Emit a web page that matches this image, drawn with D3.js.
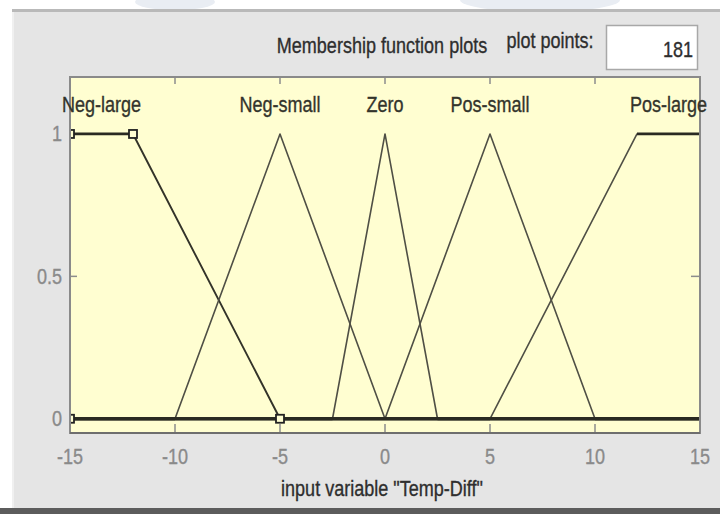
<!DOCTYPE html>
<html>
<head>
<meta charset="utf-8">
<script src="https://cdn.jsdelivr.net/npm/d3@7/dist/d3.min.js"></script>
<style>
  html, body { margin: 0; padding: 0; background: #ffffff; }
  svg { display: block; }
  text { font-family: "Liberation Sans", Arial, sans-serif; }
</style>
</head>
<body>
<svg id="chart" width="720" height="514"></svg>
<script>
// Membership functions of the input variable "Temp-Diff"
const mfNames = ["Neg-large", "Neg-small", "Zero", "Pos-small", "Pos-large"];
// Vertices [x, membership] of each function over the whole input range
const negLarge = [[-15, 1], [-12, 1], [-5, 0], [15, 0]];
const negSmall = [[-15, 0], [-10, 0], [-5, 1], [0, 0], [15, 0]];
const zero     = [[-15, 0], [-2.5, 0], [0, 1], [2.5, 0], [15, 0]];
const posSmall = [[-15, 0], [0, 0], [5, 1], [10, 0], [15, 0]];
const posLarge = [[-15, 0], [5, 0], [12, 1], [15, 1]];
const mfVertices = [negLarge, negSmall, zero, posSmall, posLarge];
// Where each name sits (centre of the function's peak)
const labelX = [-13.5, -5, 0, 5, 13.5];
// Editable parameter points of the selected function
const selectedIndex = 0;
const selectedPoints = [[-15, 0], [-15, 1], [-12, 1], [-5, 0]];

const xTicks = [-15, -10, -5, 0, 5, 10, 15];
const yTicks = [0, 0.5, 1];
const yTickLabels = ["0", "0.5", "1"];
const xDomain = [-15, 15];
const yDomain = [-0.05, 1.2];
const plotPoints = "181";

const svg = d3.select("#chart");
const W = 720, H = 514;
const axLeft = 70, axRight = 700, axTop = 77, axBottom = 433;
const squeeze = 0.82;   // narrow GUI font look
const fontSize = 22;

const x = d3.scaleLinear().domain(xDomain).range([axLeft, axRight]);
const y = d3.scaleLinear().domain(yDomain).range([axBottom, axTop]);

// text helper: horizontally condensed label anchored at (px, py)
function label(parent, px, py, str, anchor, color) {
  return parent.append("text")
    .attr("transform", `translate(${px},${py}) scale(${squeeze},1)`)
    .attr("text-anchor", anchor)
    .attr("font-size", fontSize)
    .attr("fill", color)
    .attr("stroke", color)
    .attr("stroke-width", 0.35)
    .text(str);
}

// window background with faint header shapes
svg.append("rect").attr("width", W).attr("height", H).attr("fill", "#ffffff");
const haze = svg.append("g").attr("fill", "#dfe6ee").attr("opacity", 0.7);
haze.append("ellipse").attr("cx", 175).attr("cy", 2).attr("rx", 40).attr("ry", 8);
haze.append("ellipse").attr("cx", 540).attr("cy", 0).attr("rx", 80).attr("ry", 12);

// grey figure panel
svg.append("rect").attr("x", 12).attr("y", 10).attr("width", W - 12).attr("height", 498)
  .attr("fill", "#e5e5e5");
svg.append("rect").attr("x", 12).attr("y", 9).attr("width", W - 12).attr("height", 3)
  .attr("fill", "#b9b9b9");
svg.append("rect").attr("x", 12).attr("y", 12).attr("width", 2).attr("height", 496)
  .attr("fill", "#f0f0f0");
svg.append("rect").attr("x", 0).attr("y", 508).attr("width", W).attr("height", 6)
  .attr("fill", "#5c5c5c");

// header texts and the plot points box
label(svg, 382, 53, "Membership function plots", "middle", "#2e2e2e");
label(svg, 550, 48, "plot points:", "middle", "#2e2e2e");
svg.append("rect").attr("x", 606.5).attr("y", 25.5).attr("width", 91).attr("height", 44)
  .attr("fill", "#ffffff").attr("stroke", "#a8a8a8").attr("stroke-width", 1.5);
label(svg, 693, 57, plotPoints, "end", "#2e2e2e");

// axes background
svg.append("rect").attr("x", axLeft).attr("y", axTop).attr("width", axRight - axLeft).attr("height", axBottom - axTop)
  .attr("fill", "#fffed1");

// ticks (inward, on all four sides)
const tickG = svg.append("g").attr("stroke", "#8c8c8c").attr("stroke-width", 1.5);
xTicks.forEach(t => {
  tickG.append("line").attr("x1", x(t)).attr("x2", x(t)).attr("y1", axTop).attr("y2", axTop + 7);
  tickG.append("line").attr("x1", x(t)).attr("x2", x(t)).attr("y1", axBottom).attr("y2", axBottom - 9);
});
yTicks.forEach(t => {
  tickG.append("line").attr("x1", axLeft).attr("x2", axLeft + 7).attr("y1", y(t)).attr("y2", y(t));
  tickG.append("line").attr("x1", axRight).attr("x2", axRight - 9).attr("y1", y(t)).attr("y2", y(t));
});

// membership function curves
const line = d3.line().x(d => x(d[0])).y(d => y(d[1]));
const curves = svg.append("g").attr("fill", "none").attr("stroke-linejoin", "round");
mfVertices.forEach((pts, i) => {
  curves.append("path").attr("d", line(pts))
    .attr("stroke", i === selectedIndex ? "#333329" : "#4f4f45")
    .attr("stroke-width", i === selectedIndex ? 1.9 : 1.6);
});
// horizontal runs of every curve render heavier
mfVertices.forEach(pts => {
  for (let k = 0; k + 1 < pts.length; k++) {
    if (pts[k][1] === pts[k + 1][1]) {
      curves.append("path").attr("d", line([pts[k], pts[k + 1]]))
        .attr("stroke", "#2a2a22").attr("stroke-width", 2.8);
    }
  }
});

// parameter handles of the selected function
const clip = svg.append("clipPath").attr("id", "axclip");
clip.append("rect").attr("x", axLeft).attr("y", axTop - 10).attr("width", axRight - axLeft).attr("height", axBottom - axTop + 20);
svg.append("g").attr("clip-path", "url(#axclip)")
  .selectAll("rect.handle").data(selectedPoints).join("rect")
  .attr("class", "handle")
  .attr("x", d => x(d[0]) - 4).attr("y", d => y(d[1]) - 4)
  .attr("width", 8).attr("height", 8)
  .attr("fill", "#fffed1").attr("stroke", "#222").attr("stroke-width", 1.8);

// axes box
svg.append("rect").attr("x", axLeft).attr("y", axTop).attr("width", axRight - axLeft).attr("height", axBottom - axTop)
  .attr("fill", "none").attr("stroke", "#8a8a8a").attr("stroke-width", 2);
svg.append("line").attr("x1", axLeft).attr("x2", axRight).attr("y1", axBottom).attr("y2", axBottom)
  .attr("stroke", "#6e6e6e").attr("stroke-width", 2.2);

// function names above their peaks
const nameG = svg.append("g");
mfNames.forEach((n, i) => label(nameG, x(labelX[i]), 112, n, "middle", "#33342c"));

// tick labels
const tickLabelG = svg.append("g");
xTicks.forEach(t => label(tickLabelG, x(t), 464, String(t), "middle", "#8a8a8a"));
yTicks.forEach((t, i) => label(tickLabelG, 62, y(t) + 7.5, yTickLabels[i], "end", "#8a8a8a"));

// axis title
label(svg, 382, 496, 'input variable "Temp-Diff"', "middle", "#2e2e2e");
</script>
</body>
</html>
